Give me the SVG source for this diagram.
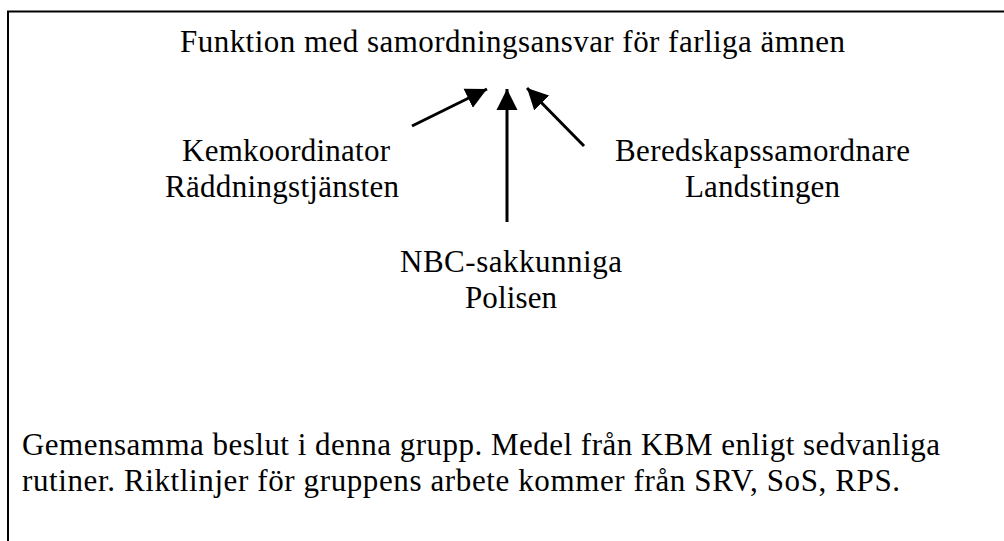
<svg xmlns="http://www.w3.org/2000/svg" width="1004" height="541" viewBox="0 0 1004 541">
  <style>
    text { font-family: "Liberation Serif", "Times New Roman", "DejaVu Serif", serif; font-size: 31px; fill: #000; }
    .c { text-anchor: middle; }
    .frame { fill: none; stroke: #000; stroke-width: 2; }
    .edge { fill: none; stroke: #000; stroke-width: 3; }
  </style>
  <defs>
    <marker id="head" viewBox="0 0 10 10" refX="10" refY="5" markerWidth="7" markerHeight="7.4" markerUnits="strokeWidth" orient="auto">
      <path d="M0,0 L10,5 L0,10 Z" fill="#000"/>
    </marker>
  </defs>

  <rect width="1004" height="541" fill="#fff"/>
  <!-- outer frame: right and bottom sides lie outside the canvas -->
  <path class="frame" d="M8,541 V11.5 H1004"/>

  <g id="title">
    <text class="c" x="512.5" y="51.5" textLength="665" lengthAdjust="spacing">Funktion med samordningsansvar för farliga ämnen</text>
  </g>

  <g id="kemkoordinator">
    <text class="c" x="286" y="161" textLength="208" lengthAdjust="spacing">Kemkoordinator</text>
    <text class="c" x="282" y="197" textLength="234" lengthAdjust="spacing">Räddningstjänsten</text>
  </g>

  <g id="beredskap">
    <text class="c" x="762.5" y="161" textLength="295" lengthAdjust="spacing">Beredskapssamordnare</text>
    <text class="c" x="762.5" y="197" textLength="155" lengthAdjust="spacing">Landstingen</text>
  </g>

  <g id="nbc">
    <text class="c" x="511" y="272" textLength="222" lengthAdjust="spacing">NBC-sakkunniga</text>
    <text class="c" x="511" y="307.5" textLength="92" lengthAdjust="spacing">Polisen</text>
  </g>

  <g id="note">
    <text x="22" y="455" textLength="918" lengthAdjust="spacing">Gemensamma beslut i denna grupp. Medel från KBM enligt sedvanliga</text>
    <text x="22" y="491" textLength="878" lengthAdjust="spacing">rutiner. Riktlinjer för gruppens arbete kommer från SRV, SoS, RPS.</text>
  </g>

  <g id="connectors">
    <line class="edge" x1="412" y1="126" x2="487" y2="89" marker-end="url(#head)"/>
    <line class="edge" x1="507" y1="222" x2="507" y2="89" marker-end="url(#head)"/>
    <line class="edge" x1="584" y1="146" x2="527" y2="88" marker-end="url(#head)"/>
  </g>
</svg>
